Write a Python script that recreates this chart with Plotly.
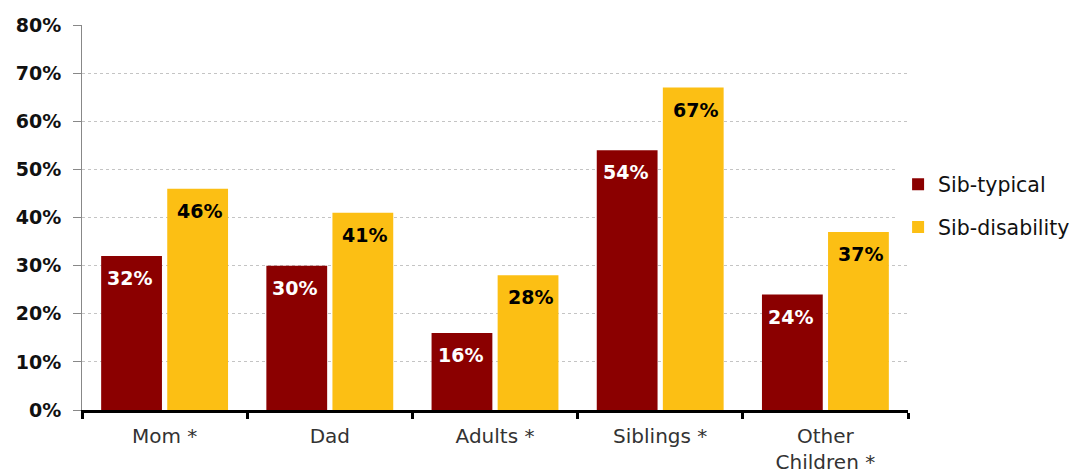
import plotly.graph_objects as go

categories = ["Mom *", "Dad", "Adults *", "Siblings *", "Other<br>Children *"]
sib_typical = [32, 30, 16, 54, 24]
sib_disability = [46, 41, 28, 67, 37]
series_names = ["Sib-typical", "Sib-disability"]
y_ticks = [0, 10, 20, 30, 40, 50, 60, 70, 80]

RED = "#8B0000"
YELLOW = "#FCBF14"
FONT = "DejaVu Sans"

fig = go.Figure()
fig.add_trace(go.Bar(x=categories, y=sib_typical, name=series_names[0], legendgroup="a",
                     marker=dict(color=RED, line=dict(width=0))))
fig.add_trace(go.Bar(x=categories, y=sib_disability, name=series_names[1], legendgroup="b",
                     marker=dict(color=YELLOW, line=dict(width=0))))

# data labels placed inside near the top of each bar
annotations = []
for vals, shift, color in [(sib_typical, -35, "white"), (sib_disability, 35, "black")]:
    for c, v in zip(categories, vals):
        annotations.append(dict(x=c, y=v, xref="x", yref="y", text=f"{v}%",
                                showarrow=False, xshift=shift, yshift=-22,
                                font=dict(family=FONT, size=19, color=color, weight="bold")))

fig.update_layout(
    width=1085, height=473,
    margin=dict(l=82, r=177, t=25, b=63, autoexpand=False),
    plot_bgcolor="white", paper_bgcolor="white",
    barmode="group", bargap=0.2, bargroupgap=0.08,
    font=dict(family=FONT, size=19, color="#222"),
    legend=dict(x=0.988, y=0.53, xanchor="left", yanchor="middle",
                font=dict(family=FONT, size=20.5, color="#111"),
                tracegroupgap=13, itemsizing="constant"),
    annotations=annotations,
    showlegend=True,
)
fig.update_yaxes(range=[0, 80], tickvals=y_ticks, ticktext=[f"{t}%" for t in y_ticks],
                 showgrid=True, gridcolor="#C4C4C4", griddash="dot", gridwidth=1,
                 showline=True, linecolor="#888", linewidth=1,
                 ticks="outside", ticklen=8, tickcolor="#888",
                 tickfont=dict(family=FONT, size=19, color="#111", weight="bold"),
                 ticklabelstandoff=8, zeroline=False, automargin=False)
fig.update_xaxes(showline=True, linecolor="black", linewidth=3,
                 ticks="outside", tickson="boundaries", ticklen=6, tickwidth=3, tickcolor="black",
                 tickfont=dict(family=FONT, size=20, color="#333"),
                 ticklabelstandoff=6, automargin=False)

fig.write_html("out.html")
